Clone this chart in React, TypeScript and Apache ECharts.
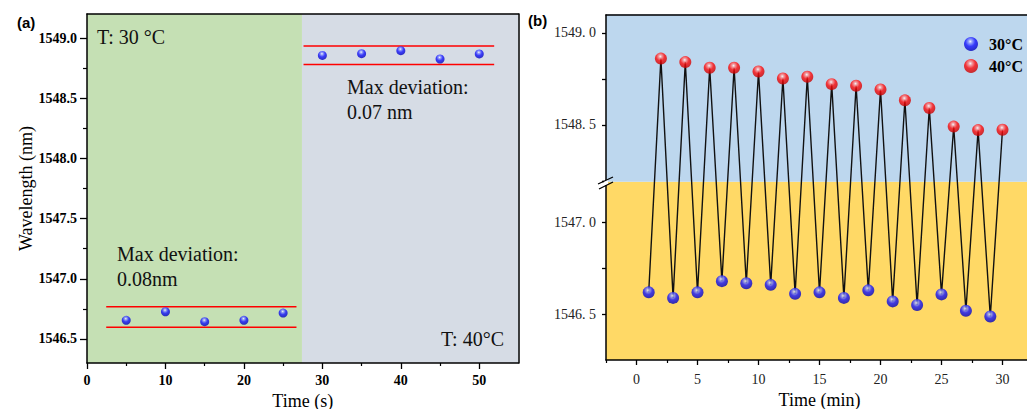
import React, { useEffect, useRef } from 'react';
import * as echarts from 'echarts';

// ---------- Panel (a) data ----------
const timeA30 = [5, 10, 15, 20, 25];
const waveA30 = [1546.655, 1546.726, 1546.643, 1546.655, 1546.715];
const timeA40 = [30, 35, 40, 45, 50];
const waveA40 = [1548.856, 1548.87, 1548.895, 1548.826, 1548.868];
const devBandA30 = [1546.597, 1546.767];
const devBandA40 = [1548.781, 1548.934];
const devSpanA30 = [2.45, 26.7];
const devSpanA40 = [27.6, 51.9];
const regionSplitA = 27.4;
const xRangeA = [0, 55];
const yRangeA = [1546.3, 1549.2];
const xMajorA = [0, 10, 20, 30, 40, 50];
const xMinorA = [5, 15, 25, 35, 45];
const yMajorA = [1546.5, 1547.0, 1547.5, 1548.0, 1548.5, 1549.0];
const yMinorA = [1546.75, 1547.25, 1547.75, 1548.25, 1548.75];

// ---------- Panel (b) data ----------
const timeB30 = [1, 3, 5, 7, 9, 11, 13, 15, 17, 19, 21, 23, 25, 27, 29];
const waveB30 = [1546.618, 1546.588, 1546.618, 1546.679, 1546.668, 1546.659, 1546.61, 1546.618, 1546.588, 1546.629, 1546.569, 1546.549, 1546.607, 1546.518, 1546.487];
const timeB40 = [2, 4, 6, 8, 10, 12, 14, 16, 18, 20, 22, 24, 26, 28, 30];
const waveB40 = [1548.86, 1548.841, 1548.81, 1548.81, 1548.79, 1548.752, 1548.761, 1548.721, 1548.712, 1548.692, 1548.633, 1548.591, 1548.49, 1548.471, 1548.473];
const xRangeB = [-2.5, 32.5];
const yRangeB = [1546.25, 1549.1];
const breakB = [1547.22, 1548.19];
const xMajorB = [0, 5, 10, 15, 20, 25, 30];
const xMinorB = [-2.5, 2.5, 7.5, 12.5, 17.5, 22.5, 27.5, 32.5];

const SERIF = "'Liberation Serif', 'Times New Roman', serif";

function ball(kind: 'blue' | 'red') {
  const stops =
    kind === 'blue'
      ? [
          { offset: 0, color: '#ffffff' },
          { offset: 0.18, color: '#8a95ff' },
          { offset: 0.5, color: '#1414ff' },
          { offset: 1, color: '#0000b4' },
        ]
      : [
          { offset: 0, color: '#ffffff' },
          { offset: 0.18, color: '#ff9090' },
          { offset: 0.5, color: '#ff0a0a' },
          { offset: 1, color: '#c00000' },
        ];
  return new echarts.graphic.RadialGradient(0.45, 0.32, 0.7, stops);
}

const isMult = (v: number, step: number) => Math.abs(v / step - Math.round(v / step)) < 1e-6;

export default function App() {
  const ref = useRef<HTMLDivElement>(null);
  useEffect(() => {
    if (!ref.current) return;
    const chart = echarts.init(ref.current, null, { renderer: 'svg' });

    const lineB = [
      ...timeB30.map((t, i) => [t, waveB30[i]]),
      ...timeB40.map((t, i) => [t, waveB40[i]]),
    ].sort((a, b) => a[0] - b[0]);

    const frameAxis = (gridIndex: number, position: string, range: number[]) => ({
      gridIndex,
      position,
      type: 'value',
      min: range[0],
      max: range[1],
      z: 5,
      axisLine: { show: true, onZero: false, lineStyle: { color: '#000', width: 1.5 } },
      axisTick: { show: false },
      axisLabel: { show: false },
      splitLine: { show: false },
    });

    const minorAxis = (gridIndex: number, position: string, range: number[], ticks: number[], length: number) => ({
      gridIndex,
      position,
      type: 'value',
      min: range[0],
      max: range[1],
      z: 5,
      axisLine: { show: false, onZero: false },
      axisTick: { show: true, length, customValues: ticks, lineStyle: { color: '#000', width: 1.2 } },
      axisLabel: { show: false },
      splitLine: { show: false },
    });

    const option: any = {
      animation: false,
      backgroundColor: '#ffffff',
      grid: [
        { left: 87, top: 14, width: 431.5, height: 349, outerBoundsMode: 'none', containLabel: false },
        { left: 606, top: 14.5, width: 427, height: 345.5, outerBoundsMode: 'none', containLabel: false },
      ],
      xAxis: [
        {
          gridIndex: 0,
          type: 'value',
          min: xRangeA[0],
          max: xRangeA[1],
          z: 5,
          axisLine: { onZero: false, lineStyle: { color: '#000', width: 1.5 } },
          axisTick: { length: 6, customValues: xMajorA, lineStyle: { color: '#000', width: 1.3 } },
          axisLabel: {
            margin: 10,
            color: '#000',
            fontFamily: SERIF,
            fontWeight: 'bold',
            fontSize: 14,
            customValues: xMajorA,
            formatter: (v: number) => String(v),
          },
          splitLine: { show: false },
          name: 'Time (s)',
          nameLocation: 'middle',
          nameGap: 23,
          nameTextStyle: { color: '#000', fontFamily: SERIF, fontSize: 18 },
        },
        frameAxis(0, 'top', xRangeA),
        {
          gridIndex: 1,
          type: 'value',
          min: xRangeB[0],
          max: xRangeB[1],
          z: 5,
          axisLine: { onZero: false, lineStyle: { color: '#000', width: 1.5 } },
          axisTick: { length: 5, customValues: xMajorB, lineStyle: { color: '#000', width: 1.3 } },
          axisLabel: {
            margin: 12,
            color: '#222',
            fontFamily: SERIF,
            fontSize: 14,
            customValues: xMajorB,
            formatter: (v: number) => String(v),
          },
          splitLine: { show: false },
          name: 'Time (min)',
          nameLocation: 'middle',
          nameGap: 29,
          nameTextStyle: { color: '#000', fontFamily: SERIF, fontSize: 18 },
        },
        frameAxis(1, 'top', xRangeB),
        minorAxis(0, 'bottom', xRangeA, xMinorA, 3),
        minorAxis(1, 'bottom', xRangeB, xMinorB, 3),
      ],
      yAxis: [
        {
          gridIndex: 0,
          type: 'value',
          min: yRangeA[0],
          max: yRangeA[1],
          z: 5,
          axisLine: { onZero: false, lineStyle: { color: '#000', width: 1.5 } },
          axisTick: { length: 7, customValues: yMajorA, lineStyle: { color: '#000', width: 1.3 } },
          axisLabel: {
            margin: 10,
            color: '#000',
            fontFamily: SERIF,
            fontWeight: 'bold',
            fontSize: 14,
            customValues: yMajorA,
            formatter: (v: number) => Number(v).toFixed(1),
          },
          splitLine: { show: false },
          name: 'Wavelength (nm)',
          nameLocation: 'middle',
          nameGap: 52,
          nameTextStyle: { color: '#000', fontFamily: SERIF, fontSize: 18 },
        },
        frameAxis(0, 'right', yRangeA),
        {
          gridIndex: 1,
          type: 'value',
          min: yRangeB[0],
          max: yRangeB[1],
          interval: 0.25,
          z: 5,
          breaks: [{ start: breakB[0], end: breakB[1], gap: 0 }],
          breakArea: { show: false },
          axisLine: { onZero: false, lineStyle: { color: '#000', width: 1.5 } },
          axisTick: { length: 4, lineStyle: { color: '#000', width: 1.3 } },
          axisLabel: {
            margin: 10,
            color: '#222',
            fontFamily: SERIF,
            fontSize: 14,
            showMinLabel: false,
            showMaxLabel: false,
            formatter: (v: number) => (isMult(v, 0.5) ? v.toFixed(1).replace('.', '. ') : ''),
          },
          splitLine: { show: false },
          name: 'Wavelength (nm)',
          nameLocation: 'middle',
          nameGap: 60,
          nameTextStyle: { color: '#000', fontFamily: SERIF, fontSize: 18 },
        },
        minorAxis(0, 'left', yRangeA, yMinorA, 4),
      ],
      legend: {
        data: ['30°C', '40°C'],
        orient: 'vertical',
        left: 959,
        top: 31,
        itemWidth: 14,
        itemHeight: 14,
        itemGap: 6,
        icon: 'circle',
        textStyle: { color: '#000', fontFamily: SERIF, fontWeight: 'bold', fontSize: 16, padding: [0, 0, 0, 6] },
      },
      series: [
        {
          type: 'scatter',
          xAxisIndex: 0,
          yAxisIndex: 0,
          data: [],
          z: 1,
          silent: true,
          markArea: {
            silent: true,
            data: [
              [{ xAxis: xRangeA[0], itemStyle: { color: '#c5e0b4' } }, { xAxis: regionSplitA }],
              [{ xAxis: regionSplitA, itemStyle: { color: '#d6dce5' } }, { xAxis: xRangeA[1] }],
            ],
          },
        },
        {
          type: 'scatter',
          xAxisIndex: 2,
          yAxisIndex: 2,
          data: [],
          z: 1,
          silent: true,
          markArea: {
            silent: true,
            data: [
              [{ yAxis: yRangeB[0], itemStyle: { color: '#ffd966' } }, { yAxis: breakB[0] }],
              [{ yAxis: breakB[1], itemStyle: { color: '#bdd7ee' } }, { yAxis: yRangeB[1] }],
            ],
          },
        },
        ...[
          [devSpanA30, devBandA30[0]],
          [devSpanA30, devBandA30[1]],
          [devSpanA40, devBandA40[0]],
          [devSpanA40, devBandA40[1]],
        ].map(([span, y]: any) => ({
          type: 'line',
          xAxisIndex: 0,
          yAxisIndex: 0,
          z: 3,
          symbol: 'none',
          silent: true,
          lineStyle: { color: '#ff0000', width: 1.5 },
          data: [
            [span[0], y],
            [span[1], y],
          ],
        })),
        {
          name: 'A30',
          type: 'scatter',
          xAxisIndex: 0,
          yAxisIndex: 0,
          z: 4,
          symbolSize: 9,
          itemStyle: { color: ball('blue') },
          data: timeA30.map((t, i) => [t, waveA30[i]]),
        },
        {
          name: 'A40',
          type: 'scatter',
          xAxisIndex: 0,
          yAxisIndex: 0,
          z: 4,
          symbolSize: 9,
          itemStyle: { color: ball('blue') },
          data: timeA40.map((t, i) => [t, waveA40[i]]),
        },
        {
          type: 'line',
          xAxisIndex: 2,
          yAxisIndex: 2,
          z: 3,
          symbol: 'none',
          silent: true,
          lineStyle: { color: '#111', width: 1.4 },
          data: lineB,
        },
        {
          name: '30°C',
          type: 'scatter',
          xAxisIndex: 2,
          yAxisIndex: 2,
          z: 4,
          symbolSize: 12,
          itemStyle: { color: ball('blue') },
          data: timeB30.map((t, i) => [t, waveB30[i]]),
        },
        {
          name: '40°C',
          type: 'scatter',
          xAxisIndex: 2,
          yAxisIndex: 2,
          z: 4,
          symbolSize: 12,
          itemStyle: { color: ball('red') },
          data: timeB40.map((t, i) => [t, waveB40[i]]),
        },
      ],
      graphic: [
        { type: 'text', left: 17, top: 15, z: 10, style: { text: '(a)', font: "bold 15px 'Liberation Sans', Arial, sans-serif", fill: '#000' } },
        { type: 'text', left: 528, top: 13, z: 10, style: { text: '(b)', font: "bold 15px 'Liberation Sans', Arial, sans-serif", fill: '#000' } },
        { type: 'text', x: 97, y: 37, z: 10, style: { text: 'T: 30 °C', font: `20px ${SERIF}`, fill: '#111', textVerticalAlign: 'middle' } },
        { type: 'text', x: 504, y: 339, z: 10, style: { text: 'T: 40°C', font: `20px ${SERIF}`, fill: '#111', textAlign: 'right', textVerticalAlign: 'middle' } },
        { type: 'text', x: 347, y: 87, z: 10, style: { text: 'Max deviation:', font: `20px ${SERIF}`, fill: '#111', textVerticalAlign: 'middle' } },
        { type: 'text', x: 347, y: 112, z: 10, style: { text: '0.07 nm', font: `20px ${SERIF}`, fill: '#111', textVerticalAlign: 'middle' } },
        { type: 'text', x: 117, y: 254, z: 10, style: { text: 'Max deviation:', font: `20px ${SERIF}`, fill: '#111', textVerticalAlign: 'middle' } },
        { type: 'text', x: 117, y: 279, z: 10, style: { text: '0.08nm', font: `20px ${SERIF}`, fill: '#111', textVerticalAlign: 'middle' } },
        { type: 'rect', z: 9, shape: { x: 604, y: 180, width: 4, height: 5 }, style: { fill: '#ffffff' } },
        { type: 'line', z: 10, shape: { x1: 598, y1: 184, x2: 613, y2: 177 }, style: { stroke: '#000', lineWidth: 1.3 } },
        { type: 'line', z: 10, shape: { x1: 599, y1: 189, x2: 613, y2: 182 }, style: { stroke: '#000', lineWidth: 1.3 } },
      ],
    };

    chart.setOption(option);
    return () => chart.dispose();
  }, []);

  return <div ref={ref} style={{ position: 'absolute', left: 0, top: 0, width: 1027, height: 409 }} />;
}
